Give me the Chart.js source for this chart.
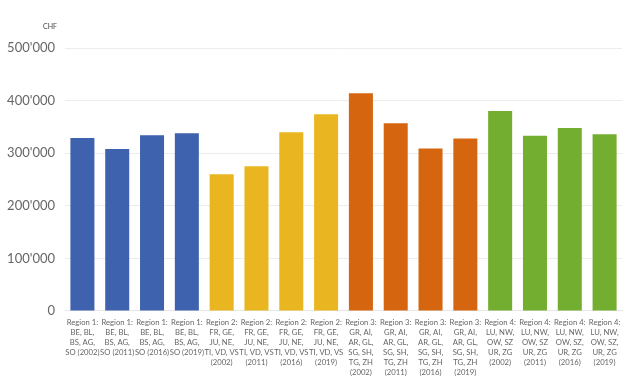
<!DOCTYPE html>
<html lang="de">
<head>
  <meta charset="UTF-8">
  <script src="https://cdn.jsdelivr.net/npm/chart.js"></script>
  <title>Regionen CHF</title>
  <style>
    html, body { margin: 0; padding: 0; background: #fff; }
    #wrap { width: 640px; height: 391px; position: relative; }
  </style>
</head>
<body>
  <div id="wrap"><canvas id="barChart"></canvas></div>

  <script>
    const labels = [
      ["Region 1:", "BE, BL,", "BS, AG,", "SO (2002)"],
      ["Region 1:", "BE, BL,", "BS, AG,", "SO (2011)"],
      ["Region 1:", "BE, BL,", "BS, AG,", "SO (2016)"],
      ["Region 1:", "BE, BL,", "BS, AG,", "SO (2019)"],
      ["Region 2:", "FR, GE,", "JU, NE,", "TI, VD, VS", "(2002)"],
      ["Region 2:", "FR, GE,", "JU, NE,", "TI, VD, VS", "(2011)"],
      ["Region 2:", "FR, GE,", "JU, NE,", "TI, VD, VS", "(2016)"],
      ["Region 2:", "FR, GE,", "JU, NE,", "TI, VD, VS", "(2019)"],
      ["Region 3:", "GR, AI,", "AR, GL,", "SG, SH,", "TG, ZH", "(2002)"],
      ["Region 3:", "GR, AI,", "AR, GL,", "SG, SH,", "TG, ZH", "(2011)"],
      ["Region 3:", "GR, AI,", "AR, GL,", "SG, SH,", "TG, ZH", "(2016)"],
      ["Region 3:", "GR, AI,", "AR, GL,", "SG, SH,", "TG, ZH", "(2019)"],
      ["Region 4:", "LU, NW,", "OW, SZ", "UR, ZG", "(2002)"],
      ["Region 4:", "LU, NW,", "OW, SZ", "UR, ZG", "(2011)"],
      ["Region 4:", "LU, NW,", "OW, SZ,", "UR, ZG", "(2016)"],
      ["Region 4:", "LU, NW,", "OW, SZ,", "UR, ZG", "(2019)"]
    ];
    const values = [329000, 308000, 334000, 338000, 260000, 275000, 340000, 374000,
                    414000, 357000, 309000, 328000, 380000, 333000, 348000, 336000];
    const regionColors = ["#3e62ad", "#e9b621", "#d5660f", "#73ae31"];
    const barColors = values.map((v, i) => regionColors[Math.floor(i / 4)]);

    const unitLabel = {
      id: "unitLabel",
      afterDraw(chart) {
        const ctx = chart.ctx;
        ctx.save();
        ctx.font = "7px Lato, sans-serif";
        ctx.fillStyle = "#444";
        ctx.textAlign = "left";
        ctx.textBaseline = "middle";
        ctx.fillText("CHF", 43, 27);
        ctx.restore();
      }
    };

    new Chart(document.getElementById("barChart"), {
      type: "bar",
      data: {
        labels,
        datasets: [{ data: values, backgroundColor: barColors, barPercentage: 0.69, categoryPercentage: 1 }]
      },
      options: {
        responsive: true,
        maintainAspectRatio: false,
        animation: false,
        layout: { padding: { top: 48, right: 18, left: 0, bottom: 6 } },
        plugins: { legend: { display: false }, tooltip: { enabled: false } },
        scales: {
          x: {
            grid: { display: false, drawTicks: false },
            border: { color: "#e6e6e6" },
            ticks: {
              autoSkip: false, maxRotation: 0, minRotation: 0, padding: 7,
              color: "#666", font: { size: 7.7, family: "Lato, sans-serif", lineHeight: 1.3 }
            }
          },
          y: {
            min: 0, max: 500000,
            afterFit(scale) { scale.width = 65; },
            grid: { color: "#ececec", drawTicks: false },
            border: { display: false },
            ticks: {
              stepSize: 100000, padding: 10, color: "#666",
              font: { size: 13, family: "Lato, sans-serif" },
              callback: v => v === 0 ? "0" : String(v).replace(/\B(?=(\d{3})+(?!\d))/g, "'")
            }
          }
        }
      },
      plugins: [unitLabel]
    });
  </script>
</body>
</html>
